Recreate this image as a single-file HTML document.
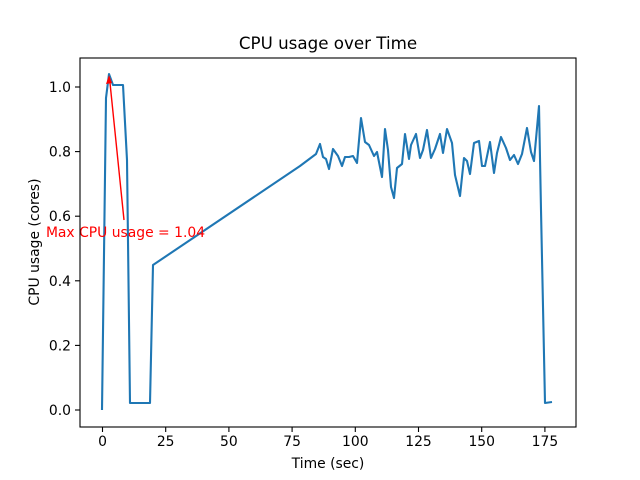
<!DOCTYPE html>
<html><head><style>body{margin:0;background:#fff}svg{display:block}text{font-family:"DejaVu Sans","Liberation Sans",sans-serif}</style></head>
<body>
<svg width="640" height="480" xmlns="http://www.w3.org/2000/svg">
<rect width="640" height="480" fill="#fff"/>
<polyline fill="none" stroke="#1f77b4" stroke-width="2.1" stroke-linejoin="round" points="102,410 106,98 109,74 113,85 120,85 123,85 127,160 130,403 150,403 153,265 300,166 316,154 320,144 323,157 326,159 329,169 333,149 338,156 342,166 345,157 349,157 353,156 357,163 361,118 365,142 369,145 374,156 377,152 382,177 385,129 388,150 391,187 394,198 397,168 402,164 405,134 409,159 411,145 416,134 420,158 423,150 427,130 431,158 435,149 440,134 443,153 447,129 452,143 455,175 460,196 464,158 467,161 470,174 474,143 479,141 482,166 485,166 490,142 494,173 497,153 501,137 506,148 510,160 514,155 518,164 522,154 527,128 531,152 534,161 539,106 541,210 545,403 552,402"/>
<line x1="124" y1="220" x2="109.5" y2="78" stroke="red" stroke-width="1.4"/>
<polygon points="109,75 106,84 112,83" fill="red"/>
<text x="125.5" y="237" font-size="13.9" fill="red" text-anchor="middle">Max CPU usage = 1.04</text>
<rect x="80" y="58" width="496" height="369" fill="none" stroke="#000" stroke-width="1.1"/>
<g stroke="#000" stroke-width="1.1">
<line x1="102.5" y1="427" x2="102.5" y2="432"/><line x1="165.7" y1="427" x2="165.7" y2="432"/><line x1="228.9" y1="427" x2="228.9" y2="432"/><line x1="292.1" y1="427" x2="292.1" y2="432"/><line x1="355.3" y1="427" x2="355.3" y2="432"/><line x1="418.5" y1="427" x2="418.5" y2="432"/><line x1="481.7" y1="427" x2="481.7" y2="432"/><line x1="544.9" y1="427" x2="544.9" y2="432"/>
<line x1="75" y1="410" x2="80" y2="410"/><line x1="75" y1="345.4" x2="80" y2="345.4"/><line x1="75" y1="280.8" x2="80" y2="280.8"/><line x1="75" y1="216.2" x2="80" y2="216.2"/><line x1="75" y1="151.6" x2="80" y2="151.6"/><line x1="75" y1="87" x2="80" y2="87"/>
</g>
<g font-size="13.9" text-anchor="middle">
<text x="102.5" y="446">0</text><text x="165.7" y="446">25</text><text x="228.9" y="446">50</text><text x="292.1" y="446">75</text><text x="355.3" y="446">100</text><text x="418.5" y="446">125</text><text x="481.7" y="446">150</text><text x="544.9" y="446">175</text>
</g>
<g font-size="13.9" text-anchor="end">
<text x="71" y="415">0.0</text><text x="71" y="350.4">0.2</text><text x="71" y="285.8">0.4</text><text x="71" y="221.2">0.6</text><text x="71" y="156.6">0.8</text><text x="71" y="92">1.0</text>
</g>
<text x="328" y="468" font-size="13.9" text-anchor="middle">Time (sec)</text>
<text x="39" y="242" font-size="13.9" text-anchor="middle" transform="rotate(-90 39 242)">CPU usage (cores)</text>
<text x="328" y="49" font-size="16.7" text-anchor="middle">CPU usage over Time</text>
</svg>
</body></html>
